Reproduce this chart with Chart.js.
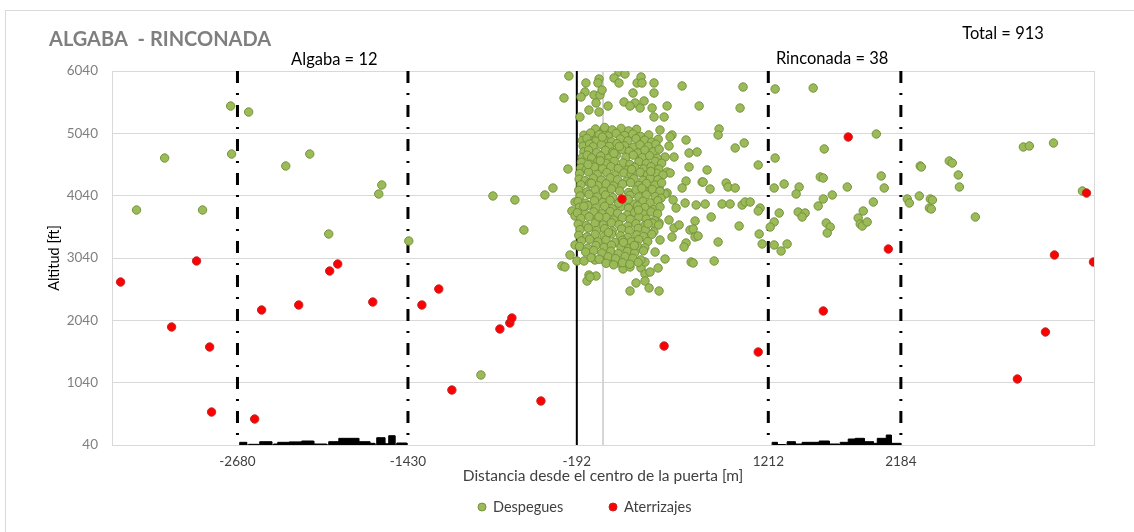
<!DOCTYPE html>
<html>
<head>
<meta charset="utf-8">
<script src="https://cdn.jsdelivr.net/npm/chart.js@4.4.0/dist/chart.umd.min.js"></script>
<style>
    html, body { margin: 0; padding: 0; background: #fff; }
    #wrap { position: relative; width: 1134px; height: 532px; }
</style>
</head>
<body>
<div id="wrap"><canvas id="chart" width="1134" height="532"></canvas></div>
<script>
    // axis ticks (zone limits on the distance axis)
    const xTicks = [-2680, -1430, -192, 1212, 2184]
    const yTicks = [40, 1040, 2040, 3040, 4040, 5040, 6040]
    const zoneLines = [-2680, -1430, 1212, 2184]
    const gateLine = -192

    // Despegues [distance m, altitude ft]
    const despegues = [
        // west side
        [-3420,3810],[-3214,4644],[-2936,3810],[-2730,5478],[-2598,5382],[-2723,4708],[-2326,4516],[-2150,4708],
        [-2011,3425],[-1622,4211],[-1644,4067],[-1424,3313],[-895,1163],[-807,4035],[-646,3971],[-580,3489],
        [-426,4051],[-367,4163],[-301,2912],[-250,5960],[-286,5607],[-257,4468],
        // top of the cloud
        [117,6024],[161,5992],[81,5928],[117,5848],[-29,5912],[-37,5848],[-125,5848],[-132,5703],[-66,5655],
        [-22,5655],[-7,5735],[-161,5623],[-51,5527],[-103,5414],[-29,5382],[37,5478],[-169,5302],[154,5543],
        [220,5687],[250,5848],[279,5944],[286,5848],[374,5848],[374,5687],[301,5559],[235,5527],[198,5478],
        [272,5446],[360,5446],[470,5479],[374,5302],[448,5302],[580,5800],
        // cloud edges
        [418,5093],[506,5013],[492,4981],[609,4933],[484,4837],[631,4725],[631,4500],[455,4660],[521,4660],
        [470,4420],[492,4404],[609,4275],[727,4259],[580,4163],[411,4163],[470,4083],[-103,4981],[-66,5045],
        [7,5093],[-205,3938],[-228,3794],[-205,3714],[-205,3249],[-242,3088],[-191,2992],[-279,2896],
        [-139,2992],[-103,2767],[-117,2671],[-51,2751],[-95,2735],[147,2864],[198,2896],[279,2880],[308,2783],
        [345,2815],[308,2671],[242,2639],[338,2559],[411,2511],[198,2511],[404,2880],[455,3024],[646,2976],
        [73,2960],[7,3008],[117,2960],[-59,3008],[455,4067],[514,3971],[536,3842],[602,3922],[638,3489],
        [609,3281],[594,3217],[506,3377],[521,3521],[558,3569],[484,3650],[411,3602],[418,3329],[382,3136],
        [308,2976],
        // cloud core
        [-55,5110],[12,5135],[68,5095],[133,5120],[188,5080],[246,5105],
        [-140,5010],[-92,5045],[-28,5020],[38,4995],[97,5040],[158,5005],[218,5030],[276,4990],[335,5015],
        [-150,4925],[-118,4960],[-52,4915],[8,4945],[62,4905],[127,4950],[183,4920],[242,4955],[305,4930],[357,4900],[405,4945],
        [-146,4835],[-98,4870],[-72,4825],[-12,4860],[47,4830],[103,4875],[158,4840],[223,4815],[272,4855],[333,4830],[388,4865],
        [-140,4745],[-106,4770],[-47,4730],[18,4765],[72,4740],[138,4780],[192,4750],[253,4725],[307,4770],[368,4745],[412,4785],
        [-152,4655],[-116,4690],[-83,4645],[-18,4675],[43,4640],[97,4685],[168,4655],[222,4690],[288,4650],[342,4680],[398,4640],
        [-158,4575],[-97,4545],[-38,4590],[23,4560],[82,4595],[148,4565],[197,4540],[263,4585],[318,4555],[383,4590],[430,4560],
        [-162,4485],[-122,4460],[-62,4500],[-3,4470],[58,4505],[112,4475],[178,4450],[232,4495],[298,4470],[352,4505],[409,4465],
        [-172,4395],[-107,4420],[-42,4380],[28,4410],[87,4370],[153,4405],[207,4385],[273,4415],[327,4375],[393,4400],[440,4370],
        [-175,4305],[-132,4280],[-72,4320],[-12,4290],[53,4325],[107,4295],[173,4270],[227,4310],[293,4285],[347,4320],[402,4295],
        [-162,4215],[-98,4240],[-37,4200],[23,4230],[77,4195],[143,4225],[202,4250],[263,4205],[318,4235],[382,4210],[430,4245],
        [-178,4125],[-118,4100],[-58,4140],[3,4110],[63,4150],[122,4115],[188,4090],[242,4130],[308,4105],[362,4140],[418,4110],
        [-168,4035],[-103,4060],[-42,4020],[18,4050],[72,4010],[197,4045],[263,4020],[317,4055],[383,4025],[425,4000],
        [-183,3945],[-127,3920],[-63,3960],[-2,3930],[52,3965],[173,3935],[227,3905],[293,3950],[347,3925],[402,3960],
        [-172,3855],[-112,3880],[-53,3840],[12,3870],[68,3830],[133,3865],[187,3840],[253,3875],[307,3850],[372,3820],[418,3860],
        [-188,3765],[-128,3740],[-67,3780],[-8,3750],[53,3785],[107,3755],[178,3730],[232,3770],[298,3745],[352,3780],[400,3750],
        [-162,3675],[-102,3700],[-43,3660],[23,3690],[78,3650],[142,3685],[198,3660],[263,3695],[317,3665],[378,3640],
        [-182,3585],[-122,3560],[-58,3600],[3,3570],[62,3605],[117,3575],[183,3550],[242,3590],[308,3565],[362,3600],[408,3570],
        [-168,3495],[-108,3520],[-47,3480],[12,3510],[68,3470],[137,3505],[192,3480],[258,3515],[312,3490],[373,3460],
        [-178,3405],[-117,3380],[-58,3420],[8,3390],[62,3425],[128,3395],[182,3370],[248,3410],[297,3385],[358,3420],
        [-158,3315],[-98,3340],[-37,3300],[22,3330],[88,3290],[142,3325],[208,3300],[262,3335],[328,3305],
        [-172,3225],[-113,3200],[-52,3240],[8,3210],[62,3245],[132,3215],[187,3190],[253,3230],[307,3205],
        [-127,3135],[-68,3160],[-8,3120],[57,3150],[112,3110],[178,3145],[232,3120],[297,3155],
        [-87,3045],[-28,3020],[38,3060],[92,3030],[163,3065],[218,3035],[278,3010],
        [23,2955],[78,2930],[143,2965],[197,2940],[258,2970],
        [-20,4600],[120,4830],[210,4460],[-85,4240],[260,3810],[40,3450],[330,3590],[-140,3870],[150,3290],
        [80,4720],[285,4160],[-30,3700],[185,3980],[350,4430],[-110,4540],[115,3920],[230,3240],[-5,4980],
        // east side
        [1027,5783],[1262,5751],[1541,5767],[705,5479],[1005,5446],[851,5110],[844,5013],[1035,4885],[969,4805],
        [1622,4789],[2004,5029],[690,4741],[1262,4644],[1138,4532],[763,4452],[2326,4516],[1593,4340],[1615,4323],
        [2040,4356],[2062,4163],[1791,4179],[734,4259],[903,4243],[917,4179],[969,4163],[785,4147],[1255,4163],
        [1328,4227],[1438,4179],[1416,4067],[1681,4051],[1615,3987],[1578,3874],[1982,3938],[2231,3987],[2246,3922],
        [2319,4035],[2400,3987],[2393,3842],[683,3890],[749,3906],[873,3906],[932,3906],[1020,3890],[1042,3938],
        [1079,3938],[1152,3842],[1138,3794],[1292,3762],[1431,3778],[1482,3762],[1460,3698],[1908,3794],[1871,3682],
        [1886,3585],[1901,3553],[1937,3618],[1637,3602],[1666,3537],[1644,3441],[793,3698],[675,3634],[998,3553],
        [1255,3618],[1226,3537],[661,3505],[675,3377],[697,3393],[1145,3425],[844,3297],[1167,3265],[1255,3249],
        [1350,3265],[1306,3152],[815,2992],[661,2960],
        [3082,4821],[3126,4837],[3303,4885],[2334,4500],[2539,4596],[2561,4564],[2605,4372],[2613,4179],[2415,3970],
        [2407,3826],[2730,3698],[3515,4115]
    ]

    // Aterrizajes [distance m, altitude ft]
    const aterrizajes = [
        [-3537,2655],[-3163,1933],[-2980,2992],[-2884,1612],[-2870,569],[-2554,457],[-2503,2206],[-2231,2286],
        [-2004,2831],[-1945,2943],[-1688,2334],[-1328,2286],[-1204,2542],[-1108,922],[-756,1901],[-683,1997],
        [-668,2077],[-455,746],[139,3986],[448,1628],[1138,1532],[1615,2190],[1798,4981],[2092,3184],
        [3038,1099],[3244,1853],[3310,3088],[3545,4082],[3596,2976]
    ]

    // small black histograms at ground level [from, to, altitude ft]
    const histAlgaba = [
        [-2664,-2613,83],[-2598,-2525,51],[-2517,-2429,93],[-2415,-2385,56],[-2385,-2300,83],[-2300,-2209,90],
        [-2209,-2121,104],[-2121,-2026,56],[-2011,-1937,93],[-1937,-1871,147],[-1871,-1791,147],[-1791,-1710,93],
        [-1710,-1673,67],[-1659,-1600,157],[-1600,-1571,60],[-1571,-1526,189],[-1512,-1438,72]
    ]
    const histRinconada = [
        [1240,1277,83],[1277,1336,48],[1350,1409,93],[1409,1460,56],[1460,1585,83],[1585,1659,104],[1659,1732,56],
        [1739,1798,83],[1798,1849,136],[1849,1915,147],[1915,1982,93],[1982,2011,67],[2011,2077,147],[2077,2114,200],
        [2114,2184,67]
    ]

    const toPoints = arr => arr.map(p => ({ x: p[0], y: p[1] }))

    function histPoints(segs) {
        const pts = []
        segs.forEach(s => {
            pts.push({ x: s[0], y: 40 })
            pts.push({ x: s[0], y: s[2] })
            pts.push({ x: s[1], y: s[2] })
            pts.push({ x: s[1], y: 40 })
        })
        return pts
    }

    const datasets = [
        {
            label: 'Despegues',
            data: toPoints(despegues),
            backgroundColor: '#9bbb59',
            borderColor: '#76923c',
            borderWidth: 1,
            pointRadius: 4.2,
            order: 1
        },
        {
            label: 'Aterrizajes',
            data: toPoints(aterrizajes),
            backgroundColor: '#ff0000',
            borderColor: '#c0282a',
            borderWidth: 1,
            pointRadius: 4.2,
            order: 0
        },
        {
            label: 'histAlgaba',
            data: histPoints(histAlgaba),
            showLine: true, fill: 'origin',
            backgroundColor: '#000', borderColor: '#000', borderWidth: 1,
            pointRadius: 0, order: 2
        },
        {
            label: 'histRinconada',
            data: histPoints(histRinconada),
            showLine: true, fill: 'origin',
            backgroundColor: '#000', borderColor: '#000', borderWidth: 1,
            pointRadius: 0, order: 2
        },
        {
            label: 'gate',
            data: [{ x: gateLine, y: 6040 }, { x: gateLine, y: 40 }],
            showLine: true, borderColor: '#000', borderWidth: 2,
            pointRadius: 0, order: 3
        },
        {
            label: 'axis0',
            data: [{ x: 0, y: 6040 }, { x: 0, y: 40 }],
            showLine: true, borderColor: '#d0d0d0', borderWidth: 1,
            pointRadius: 0, order: 5
        }
    ]
    zoneLines.forEach(v => {
        datasets.push({
            label: 'zone',
            data: [{ x: v, y: 6040 }, { x: v, y: 40 }],
            showLine: true, borderColor: '#000', borderWidth: 3,
            borderDash: [12, 10, 2, 10], borderCapStyle: 'butt',
            pointRadius: 0, order: 4
        })
    })

    const frame = {
        id: 'frame',
        beforeDraw(chart) {
            const c = chart.ctx
            c.save()
            c.strokeStyle = '#d9d9d9'
            c.lineWidth = 1
            c.strokeRect(5.5, 10.5, 1200, 600)
            c.restore()
        },
        afterDraw(chart) {
            const c = chart.ctx
            const a = chart.chartArea
            const xs = chart.scales.x
            c.save()
            // right side of the plot area
            c.strokeStyle = '#d9d9d9'
            c.lineWidth = 1
            c.beginPath()
            c.moveTo(Math.round(a.right) + 0.5, a.top)
            c.lineTo(Math.round(a.right) + 0.5, a.bottom)
            c.stroke()

            c.textBaseline = 'middle'
            c.fillStyle = '#7f7f7f'
            c.font = 'bold 20px Lato, "Open Sans", sans-serif'
            c.textAlign = 'left'
            c.fillText('ALGABA  - RINCONADA', 49, 40)

            c.fillStyle = '#000'
            c.font = '16.5px Lato, "Open Sans", sans-serif'
            c.textAlign = 'center'
            c.fillText('Total = 913', 1003, 34)
            c.fillText('Algaba = 12', xs.getPixelForValue(-1970), 60)
            c.fillText('Rinconada = 38', xs.getPixelForValue(1680), 59)

            // legend
            const items = [['Despegues', '#9bbb59', '#76923c', 482], ['Aterrizajes', '#ff0000', '#c0282a', 613]]
            c.font = '14.5px Lato, "Open Sans", sans-serif'
            c.textAlign = 'left'
            items.forEach(it => {
                c.beginPath()
                c.arc(it[3], 507, 4, 0, Math.PI * 2)
                c.fillStyle = it[1]
                c.fill()
                c.strokeStyle = it[2]
                c.stroke()
                c.fillStyle = '#404040'
                c.fillText(it[0], it[3] + 11, 507)
            })
            c.restore()
        }
    }

    Chart.defaults.font.family = 'Lato, "Open Sans", sans-serif'
    Chart.defaults.color = '#595959'

    new Chart(document.getElementById('chart'), {
        type: 'scatter',
        data: { datasets: datasets },
        options: {
            responsive: false,
            animation: false,
            layout: { padding: { left: 0, right: 40, top: 71, bottom: 47 } },
            plugins: {
                legend: { display: false },
                tooltip: { enabled: false }
            },
            scales: {
                x: {
                    type: 'linear',
                    min: -3600,
                    max: 3600,
                    afterBuildTicks: s => { s.ticks = xTicks.map(v => ({ value: v })) },
                    afterFit: s => { s.height = 40 },
                    grid: { display: false, drawTicks: false },
                    border: { display: true, color: '#d9d9d9' },
                    ticks: {
                        padding: 9, autoSkip: false, maxRotation: 0,
                        font: { size: 13.5 }, color: '#404040',
                        callback: v => String(v)
                    },
                    title: {
                        display: true,
                        text: 'Distancia desde el centro de la puerta [m]',
                        color: '#404040',
                        font: { size: 15.5 },
                        padding: { top: 0, bottom: 0 }
                    }
                },
                y: {
                    min: 40,
                    max: 6040,
                    afterBuildTicks: s => { s.ticks = yTicks.map(v => ({ value: v })) },
                    afterFit: s => { s.width = 112 },
                    grid: { color: '#d9d9d9', drawTicks: false },
                    border: { display: true, color: '#d9d9d9' },
                    ticks: {
                        padding: 14,
                        font: { size: 13.5 }, color: '#7f7f7f',
                        callback: v => String(v)
                    },
                    title: {
                        display: true,
                        text: 'Altitud [ft]',
                        color: '#000',
                        font: { size: 14.5 },
                        padding: { top: 46, bottom: 0 }
                    }
                }
            }
        },
        plugins: [frame]
    })
</script>
</body>
</html>
